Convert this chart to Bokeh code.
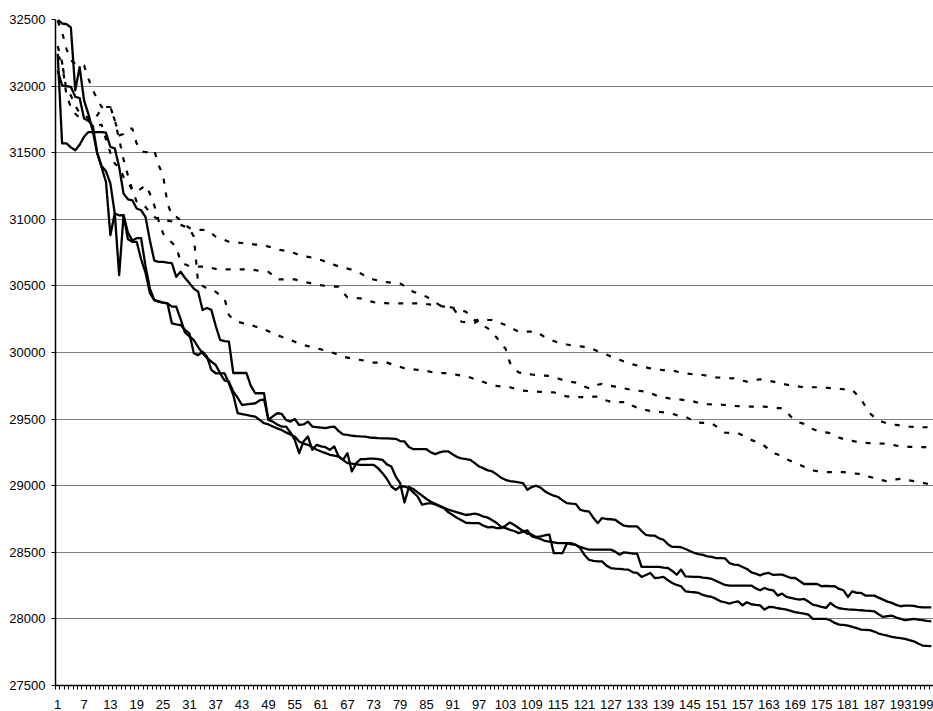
from bokeh.plotting import figure
from bokeh.models import Range1d, FixedTicker
from bokeh.embed import file_html
from bokeh.resources import INLINE

# ---------------- data ----------------
solid_a = [
    32243, 31570, 31570, 31540, 31518, 31560, 31620, 31655, 31655, 31655,
    31655, 31650, 31543, 31533, 31393, 31193, 31150, 31143, 31081, 31068,
    31018, 30843, 30690, 30681, 30680, 30675, 30671, 30568, 30606, 30560,
    30521, 30480, 30456, 30319, 30334, 30320, 30200, 30094, 30085, 30081,
    29846, 29846, 29846, 29846, 29750, 29694, 29694, 29694, 29494, 29520,
    29544, 29540, 29494, 29481, 29501, 29456, 29460, 29481, 29444, 29440,
    29436, 29432, 29440, 29444, 29410, 29385, 29382, 29375, 29372, 29370,
    29369, 29362, 29360, 29357, 29356, 29355, 29354, 29352, 29335, 29332,
    29290, 29274, 29274, 29274, 29274, 29250, 29237, 29250, 29257, 29257,
    29235, 29215, 29205, 29200, 29194, 29170, 29144, 29130, 29115, 29107,
    29085, 29060, 29044, 29035, 29030, 29025, 29019, 28969, 28990, 29000,
    28985, 28957, 28940, 28925, 28915, 28890, 28869, 28866, 28864, 28820,
    28810, 28807, 28760, 28719, 28757, 28750, 28748, 28744, 28720, 28700,
    28694, 28694, 28694, 28660, 28630, 28625, 28625, 28605, 28594, 28560,
    28540, 28540, 28538, 28525, 28510, 28495, 28487, 28480, 28470, 28466,
    28457, 28457, 28455, 28420, 28407, 28405, 28390, 28375, 28350, 28340,
    28327, 28340, 28345, 28330, 28332, 28332, 28320, 28307, 28307, 28285,
    28262, 28262, 28262, 28262, 28245, 28248, 28245, 28245, 28225, 28215,
    28165, 28207, 28195, 28195, 28175, 28175, 28175, 28160, 28145, 28130,
    28120, 28105, 28095, 28100, 28100, 28098, 28090, 28087, 28087, 28087,
]

solid_b = [
    32500, 32470, 32465, 32440, 31968, 32143, 31893, 31790, 31660, 31495,
    31390, 31280, 30881, 31046, 30581, 31031, 30850, 30831, 30831, 30700,
    30600, 30446, 30394, 30380, 30375, 30369, 30344, 30344, 30250, 30150,
    30120, 30094, 30040, 29994, 29960, 29931, 29906, 29844, 29790, 29781,
    29706, 29660, 29606, 29610, 29615, 29619, 29640, 29649, 29494, 29481,
    29460, 29444, 29444, 29400, 29344, 29244, 29332, 29369, 29269, 29307,
    29295, 29289, 29269, 29294, 29219, 29194, 29244, 29107, 29169, 29199,
    29200, 29204, 29204, 29200, 29194, 29160, 29144, 29069, 29019, 28874,
    28990, 28975, 28950, 28925, 28900, 28880, 28865, 28850, 28835, 28820,
    28810, 28800, 28790, 28780, 28785, 28790, 28782, 28768, 28760, 28740,
    28720, 28690, 28682, 28669, 28660, 28644, 28655, 28664, 28620, 28610,
    28600, 28585, 28580, 28575, 28569, 28569, 28569, 28569, 28555, 28540,
    28530, 28520, 28520, 28520, 28520, 28520, 28520, 28505, 28482, 28500,
    28495, 28490, 28490, 28390, 28390, 28390, 28390, 28390, 28385, 28382,
    28360, 28332, 28370, 28320, 28318, 28316, 28315, 28310, 28307, 28300,
    28285, 28270, 28255, 28250, 28250, 28250, 28250, 28250, 28250, 28230,
    28215, 28232, 28220, 28215, 28175, 28190, 28165, 28158, 28150, 28145,
    28150, 28130, 28107, 28100, 28090, 28082, 28120, 28095, 28080, 28075,
    28072, 28070, 28067, 28065, 28062, 28060, 28057, 28035, 28015, 28020,
    28025, 28010, 28000, 27990, 27995, 28000, 27995, 27990, 27985, 27982,
]

solid_c = [
    32118, 32005, 32000, 31995, 31920, 31910, 31757, 31740, 31700, 31500,
    31400, 31360, 31270, 31043, 31030, 31031, 30900, 30840, 30858, 30858,
    30650, 30480, 30394, 30385, 30375, 30369, 30219, 30212, 30206, 30170,
    30144, 29994, 29980, 30006, 29969, 29869, 29844, 29844, 29844, 29769,
    29681, 29544, 29538, 29531, 29525, 29519, 29494, 29469, 29460, 29444,
    29430, 29419, 29400, 29385, 29369, 29332, 29315, 29307, 29289, 29270,
    29257, 29245, 29232, 29225, 29219, 29194, 29169, 29165, 29160, 29157,
    29157, 29157, 29157, 29130, 29094, 29050, 28994, 28969, 28994, 28994,
    28982, 28950, 28919, 28857, 28865, 28869, 28860, 28845, 28832, 28800,
    28780, 28757, 28740, 28722, 28720, 28719, 28719, 28700, 28687, 28690,
    28682, 28682, 28700, 28724, 28705, 28682, 28660, 28640, 28632, 28615,
    28620, 28628, 28632, 28494, 28494, 28494, 28569, 28560, 28557, 28532,
    28480, 28444, 28435, 28432, 28432, 28400, 28382, 28378, 28375, 28372,
    28370, 28350, 28345, 28315, 28330, 28345, 28307, 28310, 28315, 28290,
    28270, 28255, 28245, 28207, 28203, 28200, 28195, 28180, 28170, 28165,
    28150, 28132, 28125, 28115, 28125, 28132, 28102, 28125, 28110, 28105,
    28102, 28070, 28090, 28088, 28080, 28075, 28070, 28060, 28050, 28045,
    28040, 28032, 28000, 28000, 28000, 28000, 27990, 27970, 27957, 27955,
    27950, 27940, 27930, 27920, 27918, 27915, 27905, 27890, 27882, 27875,
    27865, 27860, 27855, 27850, 27840, 27832, 27815, 27800, 27797, 27795,
]

dotted_a = [
    32490, 32405, 32280, 32193, 32170, 32168, 32155, 32056, 31968, 31906,
    31843, 31835, 31843, 31743, 31630, 31640, 31680, 31680, 31568, 31510,
    31505, 31505, 31518, 31406, 31331, 31120, 31030, 31018, 30993, 30960,
    30935, 30925, 30920, 30920, 30919, 30895, 30869, 30860, 30845, 30831,
    30828, 30825, 30822, 30819, 30815, 30810, 30808, 30806, 30795, 30785,
    30774, 30768, 30762, 30756, 30745, 30731, 30724, 30718, 30712, 30706,
    30694, 30682, 30669, 30658, 30647, 30636, 30630, 30622, 30613, 30594,
    30575, 30556, 30548, 30540, 30531, 30528, 30524, 30521, 30519, 30498,
    30477, 30456, 30444, 30431, 30419, 30398, 30377, 30356, 30350, 30343,
    30336, 30326, 30316, 30306, 30270, 30240, 30249, 30247, 30245, 30244,
    30232, 30219, 30206, 30190, 30173, 30156, 30156, 30156, 30156, 30156,
    30135, 30114, 30101, 30087, 30074, 30067, 30060, 30054, 30049, 30046,
    30042, 30039, 30024, 30010, 29999, 29985, 29970, 29957, 29945, 29932,
    29919, 29911, 29902, 29894, 29888, 29881, 29874, 29871, 29868, 29865,
    29864, 29857, 29850, 29843, 29839, 29836, 29833, 29831, 29825, 29819,
    29813, 29811, 29809, 29807, 29806, 29798, 29789, 29781, 29787, 29793,
    29799, 29793, 29787, 29781, 29774, 29766, 29759, 29756, 29750, 29744,
    29739, 29739, 29739, 29739, 29739, 29736, 29733, 29731, 29728, 29724,
    29721, 29719, 29685, 29649, 29595, 29544, 29515, 29489, 29478, 29467,
    29460, 29456, 29452, 29448, 29444, 29442, 29440, 29439, 29439, 29436,
]

dotted_b = [
    32300, 32180, 31930, 31843, 31793, 31760, 31745, 31743, 31720, 31705,
    31710, 31600, 31500, 31418, 31390, 31318, 31281, 31218, 31206, 31230,
    31256, 31193, 31106, 30990, 30894, 30856, 30825, 30794, 30681, 30662,
    30649, 30647, 30645, 30645, 30644, 30635, 30628, 30624, 30624, 30624,
    30624, 30624, 30624, 30624, 30624, 30618, 30612, 30608, 30606, 30580,
    30549, 30549, 30549, 30549, 30549, 30540, 30530, 30524, 30518, 30510,
    30505, 30499, 30497, 30495, 30494, 30450, 30414, 30410, 30408, 30406,
    30396, 30385, 30378, 30374, 30372, 30370, 30369, 30369, 30369, 30369,
    30369, 30369, 30369, 30369, 30364, 30360, 30356, 30350, 30345, 30340,
    30336, 30290, 30231, 30228, 30226, 30224, 30240, 30200, 30181, 30140,
    30114, 30060, 30031, 29924, 29880, 29851, 29845, 29840, 29835, 29831,
    29828, 29826, 29824, 29815, 29805, 29794, 29787, 29780, 29774, 29760,
    29745, 29732, 29745, 29758, 29764, 29757, 29750, 29744, 29738, 29731,
    29724, 29719, 29714, 29710, 29706, 29695, 29682, 29669, 29663, 29657,
    29651, 29649, 29646, 29642, 29639, 29631, 29622, 29614, 29612, 29611,
    29610, 29609, 29606, 29602, 29599, 29597, 29596, 29595, 29594, 29594,
    29594, 29594, 29590, 29586, 29583, 29582, 29555, 29519, 29490, 29475,
    29464, 29445, 29425, 29412, 29405, 29400, 29394, 29378, 29361, 29350,
    29344, 29337, 29330, 29324, 29322, 29320, 29319, 29317, 29316, 29314,
    29308, 29301, 29296, 29294, 29292, 29291, 29290, 29290, 29289, 29289,
]

dotted_c = [
    32230, 32180, 31968, 31930, 31850, 31800, 31780, 31760, 31740, 31780,
    31831, 31843, 31843, 31743, 31600, 31450, 31330, 31220, 31130, 31110,
    31093, 31050, 31018, 31000, 30993, 30990, 30985, 30975, 30960, 30945,
    30931, 30870, 30520, 30500, 30481, 30468, 30456, 30430, 30406, 30281,
    30250, 30231, 30222, 30214, 30206, 30195, 30185, 30174, 30160, 30145,
    30131, 30118, 30106, 30094, 30080, 30064, 30056, 30048, 30040, 30031,
    30023, 30015, 30006, 29994, 29982, 29969, 29962, 29955, 29948, 29944,
    29938, 29930, 29924, 29924, 29924, 29924, 29913, 29903, 29892, 29882,
    29878, 29874, 29870, 29869, 29862, 29855, 29849, 29847, 29845, 29844,
    29838, 29832, 29826, 29824, 29812, 29800, 29789, 29778, 29767, 29756,
    29750, 29745, 29740, 29739, 29730, 29722, 29714, 29711, 29708, 29706,
    29705, 29703, 29702, 29701, 29690, 29680, 29670, 29669, 29667, 29665,
    29664, 29666, 29668, 29669, 29655, 29640, 29630, 29627, 29627, 29627,
    29627, 29600, 29585, 29574, 29568, 29562, 29557, 29554, 29551, 29549,
    29540, 29530, 29522, 29519, 29500, 29485, 29474, 29472, 29470, 29469,
    29445, 29420, 29399, 29397, 29395, 29394, 29378, 29360, 29344, 29330,
    29313, 29299, 29270, 29245, 29235, 29215, 29199, 29185, 29170, 29157,
    29143, 29128, 29114, 29110, 29106, 29102, 29102, 29102, 29102, 29102,
    29098, 29094, 29090, 29089, 29078, 29066, 29057, 29048, 29040, 29032,
    29040, 29047, 29052, 29045, 29040, 29034, 29030, 29022, 29015, 29012,
]

n_categories = 200
x_tick_labels = list(range(1, n_categories + 1, 6))      # 1, 7, 13, ... 199
y_ticks = list(range(27500, 32501, 500))

# ---------------- figure ----------------
p = figure(width=933, height=711, output_backend="svg", toolbar_location=None,
           x_range=Range1d(0.5, n_categories + 0.5), y_range=Range1d(27500, 32500),
           min_border_left=55, min_border_right=0, min_border_top=19, min_border_bottom=25)
p.outline_line_color = None
p.background_fill_color = "white"
p.border_fill_color = "white"

p.xgrid.visible = False
p.ygrid.ticker = FixedTicker(ticks=y_ticks)
p.ygrid.grid_line_color = "#808080"
p.ygrid.grid_line_width = 1.2

FONT = "Liberation Sans"

yax = p.yaxis[0]
yax.ticker = FixedTicker(ticks=y_ticks)
yax.axis_line_color = "black"
yax.axis_line_width = 1.5
yax.major_tick_out = 4
yax.major_tick_in = 0
yax.major_tick_line_color = "black"
yax.minor_tick_line_color = None
yax.major_label_standoff = 6
yax.major_label_text_font = FONT
yax.major_label_text_font_size = "13px"
yax.major_label_text_color = "black"

xax = p.xaxis[0]
boundaries = [i + 0.5 for i in range(0, n_categories + 1)]
xax.ticker = FixedTicker(ticks=x_tick_labels, minor_ticks=boundaries)
xax.axis_line_color = "black"
xax.axis_line_width = 1.5
xax.major_tick_out = 0
xax.major_tick_in = 0
xax.minor_tick_out = 4
xax.minor_tick_in = 0
xax.minor_tick_line_color = "black"
xax.major_label_standoff = 10
xax.major_label_text_font = FONT
xax.major_label_text_font_size = "13px"
xax.major_label_text_color = "black"

for s in (dotted_a, dotted_b, dotted_c):
    p.line(list(range(1, len(s) + 1)), s, line_color="black", line_width=2.2,
           line_dash="5 9", line_join="round")

for s in (solid_a, solid_b, solid_c):
    p.line(list(range(1, len(s) + 1)), s, line_color="black", line_width=2.3,
           line_join="round")

open("out.html", "w").write(file_html(p, INLINE))
